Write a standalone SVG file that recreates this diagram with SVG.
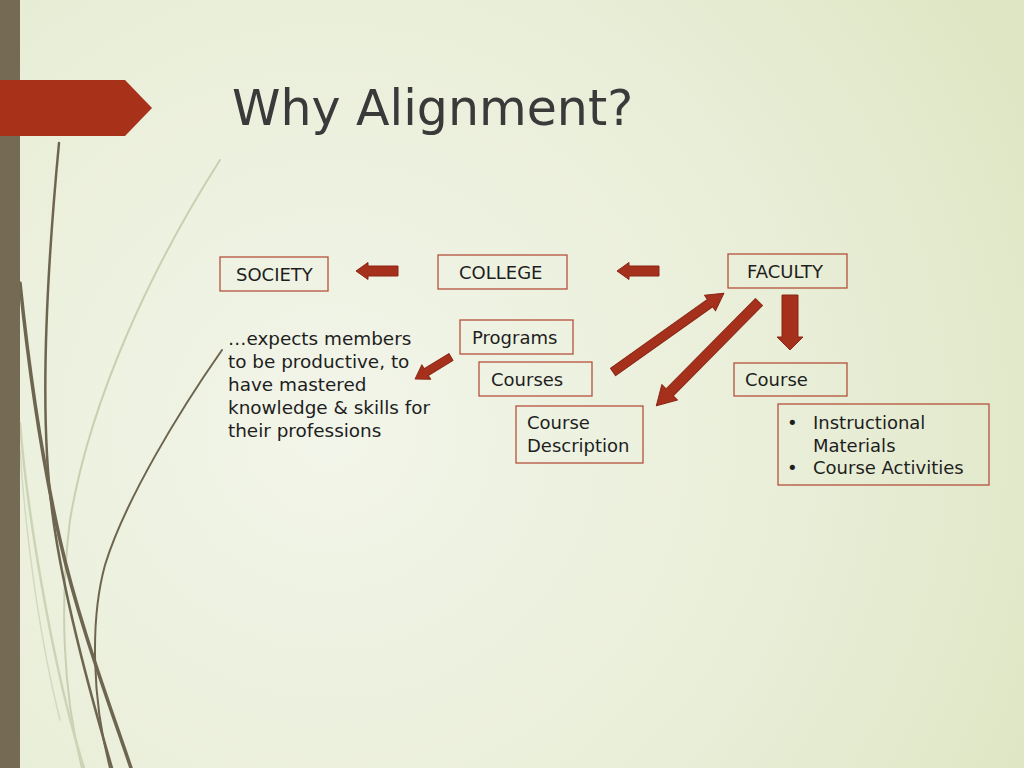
<svg xmlns="http://www.w3.org/2000/svg" width="1024" height="768" viewBox="0 0 1024 768">
<defs>
<radialGradient id="bg" cx="330" cy="430" r="780" gradientUnits="userSpaceOnUse">
<stop offset="0" stop-color="#F2F5E9"/>
<stop offset="0.6" stop-color="#E9EED8"/>
<stop offset="1" stop-color="#DFE6C4"/>
</radialGradient>
<style>
.box{fill:none;stroke:#B4513C;stroke-width:1.3}
.t{font-family:"DejaVu Sans","Liberation Sans",sans-serif;font-size:18px;fill:#1E1E1E}
.p{font-size:18.4px}
.arr{fill:#A5301B;stroke:#8A2716;stroke-width:1;stroke-linejoin:round}
.g{fill:none;stroke-linecap:round}
</style>
</defs>
<rect width="1024" height="768" fill="url(#bg)"/>
<g id="grass">
<path class="g" d="M220,160 C150,270 90,400 70,520 C60,600 62,690 82,768" stroke="#C9D0B1" stroke-width="2"/>
<path class="g" d="M20,423 C26,500 50,660 84,768" stroke="#CDD4B6" stroke-width="2.5"/>
<path class="g" d="M20,450 C26,540 40,640 60,720" stroke="#D3D9BE" stroke-width="1.5"/>
<path class="g" d="M59,143 C46,280 40,420 52,510 C62,590 92,700 112,768" stroke="#6E6550" stroke-width="2.5"/>
<path class="g" d="M20,283 C30,380 42,460 60,540 C78,620 108,700 131,768" stroke="#6E6550" stroke-width="3.5"/>
<path class="g" d="M222,350 C180,410 125,500 105,565 C90,620 92,700 110,768" stroke="#6E6550" stroke-width="2"/>
</g>
<rect id="bar" x="0" y="0" width="20" height="768" fill="#756A54"/>
<polygon id="banner" points="0,80 125,80 152,108 125,136 0,136" fill="#A8311A"/>
<text id="title" x="232" y="125" font-family="'DejaVu Sans','Liberation Sans',sans-serif" font-size="49" fill="#3A3A3A">Why Alignment?</text>
<g id="society"><rect class="box" x="220" y="257" width="108" height="34"/><text class="t" x="236" y="281">SOCIETY</text></g>
<g id="college"><rect class="box" x="438" y="255" width="129" height="34"/><text class="t" x="459" y="279">COLLEGE</text></g>
<g id="faculty"><rect class="box" x="728" y="254" width="119" height="34"/><text class="t" x="747" y="278">FACULTY</text></g>
<g id="programs"><rect class="box" x="460" y="320" width="113" height="34"/><text class="t" x="472" y="344">Programs</text></g>
<g id="courses"><rect class="box" x="479" y="362" width="113" height="34"/><text class="t" x="491" y="386">Courses</text></g>
<g id="course-description"><rect class="box" x="516" y="406" width="127" height="57"/><text class="t" x="527" y="429">Course</text><text class="t" x="527" y="452">Description</text></g>
<g id="course"><rect class="box" x="734" y="363" width="113" height="33"/><text class="t" x="745" y="386">Course</text></g>
<g id="course-items"><rect class="box" x="778" y="404" width="211" height="81"/>
<text class="t" x="787" y="429">•</text><text class="t" x="813" y="429">Instructional</text>
<text class="t" x="813" y="452">Materials</text>
<text class="t" x="787" y="474">•</text><text class="t" x="813" y="474">Course Activities</text></g>
<g id="society-text">
<text class="t p" x="228" y="345">…expects members</text>
<text class="t p" x="228" y="368">to be productive, to</text>
<text class="t p" x="228" y="391">have mastered</text>
<text class="t p" x="228" y="414">knowledge &amp; skills for</text>
<text class="t p" x="228" y="437">their professions</text>
</g>
<g id="connectors">
<polygon class="arr" points="398,266 368,266 368,262.5 356,271 368,279.5 368,276 398,276"/>
<polygon class="arr" points="659,266 629,266 629,262.5 617,271 629,279.5 629,276 659,276"/>
<polygon class="arr" points="782,295 798,295 798,337 803,337 790,350 777,337 782,337"/>
<polygon class="arr" transform="translate(613,372) rotate(-35.4)" points="0,-4.5 119,-4.5 119,-9.5 136,0 119,9.5 119,4.5 0,4.5"/>
<polygon class="arr" transform="translate(759,302) rotate(134.7)" points="0,-5 127,-5 127,-11 146,0 127,11 127,5 0,5"/>
<polygon class="arr" transform="translate(451,357) rotate(148.6)" points="0,-4 29,-4 29,-8.5 42,0 29,8.5 29,4 0,4"/>
</g>
</svg>
